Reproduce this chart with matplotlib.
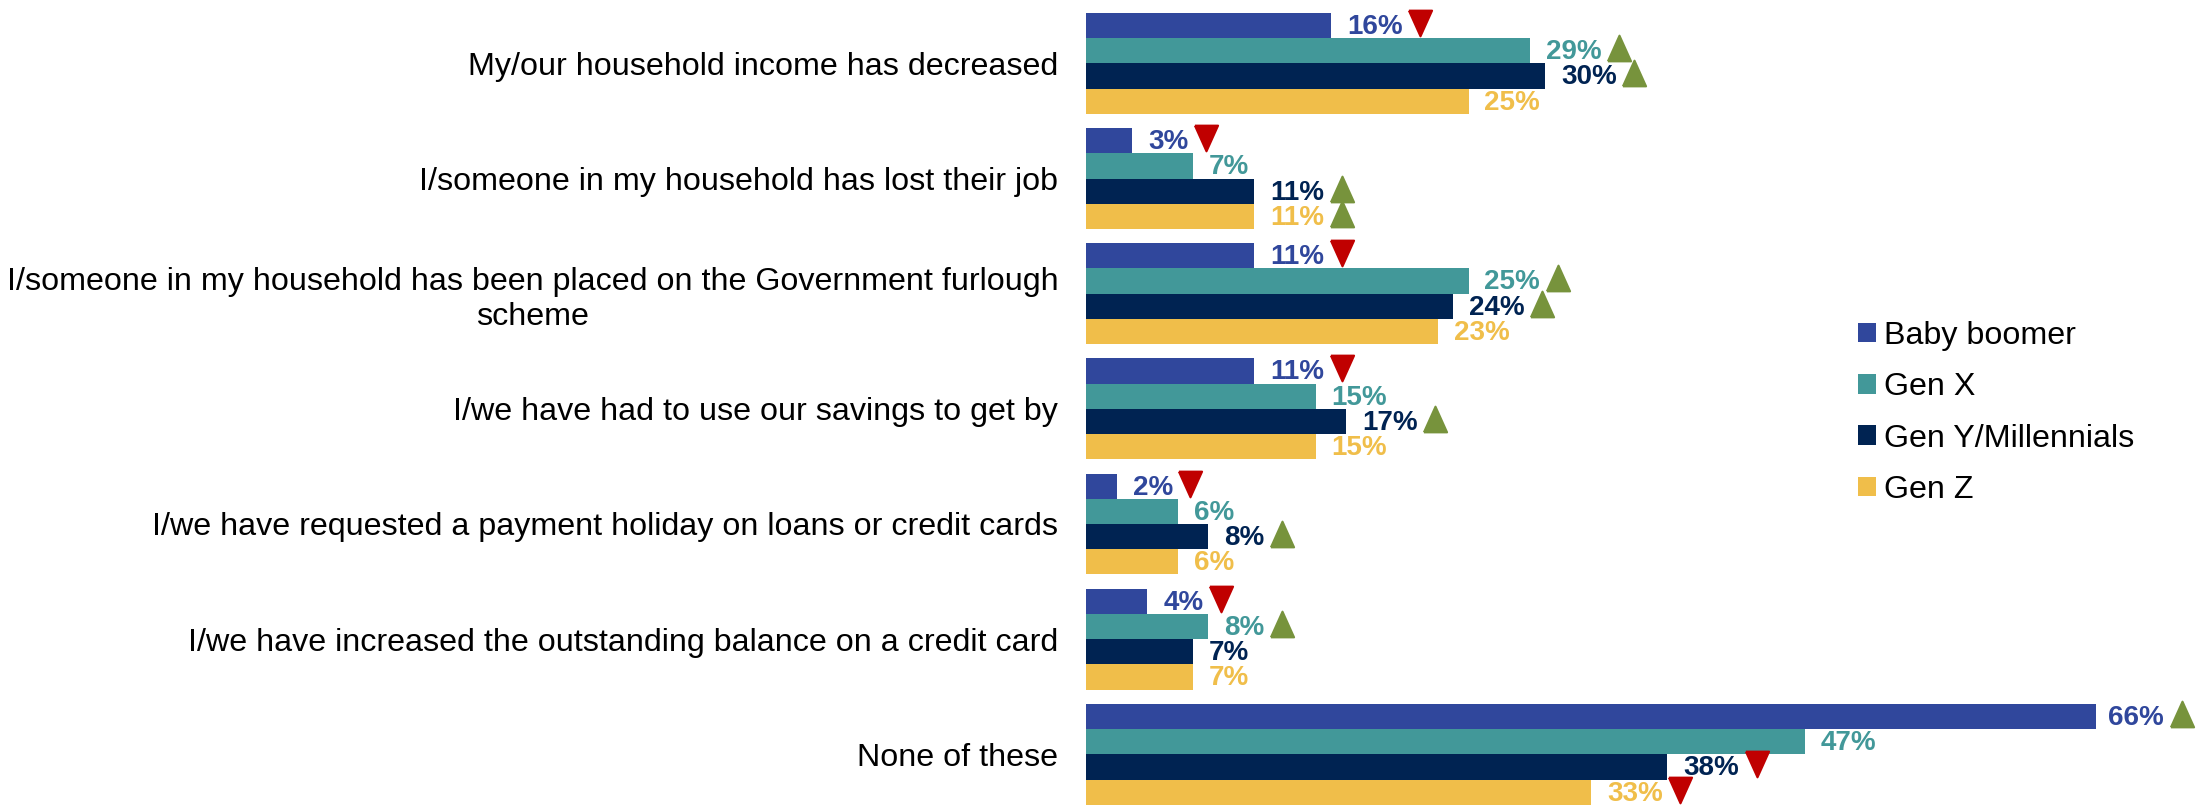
import matplotlib
matplotlib.use("Agg")
import matplotlib.pyplot as plt
import numpy as np
from matplotlib.patches import Patch

categories = [
    "My/our household income has decreased",
    "I/someone in my household has lost their job",
    "I/someone in my household has been placed on the Government furlough\nscheme",
    "I/we have had to use our savings to get by",
    "I/we have requested a payment holiday on loans or credit cards",
    "I/we have increased the outstanding balance on a credit card",
    "None of these",
]
series = ["Baby boomer", "Gen X", "Gen Y/Millennials", "Gen Z"]
baby_boomer = [16, 3, 11, 11, 2, 4, 66]
gen_x = [29, 7, 25, 15, 6, 8, 47]
gen_y = [30, 11, 24, 17, 8, 7, 38]
gen_z = [25, 11, 23, 15, 6, 7, 33]
# significance flags: 1 = higher (green up), -1 = lower (red down), 0 = none
sig_bb = [-1, -1, -1, -1, -1, -1, 1]
sig_x = [1, 0, 1, 0, 0, 1, 0]
sig_y = [1, 1, 1, 1, 1, 0, -1]
sig_z = [0, 1, 0, 0, 0, 0, -1]

colors = ["#30479C", "#429899", "#002352", "#F0BE4A"]
values = [baby_boomer, gen_x, gen_y, gen_z]
sigs = [sig_bb, sig_x, sig_y, sig_z]

W, H = 2206, 805
fig = plt.figure(figsize=(W / 100, H / 100), dpi=100)
ax = fig.add_axes([1086 / W, 0, 1 - 1086 / W, 1])

bh = 0.219
y = np.arange(len(categories))
for k in range(4):
    ax.barh(y - 1.5 * bh + k * bh, values[k], height=bh, color=colors[k], edgecolor="none")

ax.set_xlim(0, 73.2)
ax.set_ylim(6.44, -0.55)
ax.set_yticks(y)
ax.set_yticklabels(categories, fontsize=23.2, family=["Liberation Sans", "DejaVu Sans"],
                   multialignment="center")
ax.tick_params(axis="y", length=0, pad=20)
ax.set_xticks([])
for s in ax.spines.values():
    s.set_visible(False)

labfont = dict(family=["Liberation Sans", "DejaVu Sans"], fontsize=20, fontweight="bold")
texts = []
for k in range(4):
    for i, v in enumerate(values[k]):
        t = ax.annotate(f"{v}%", xy=(v, y[i] - 1.5 * bh + k * bh), xytext=(11.5, -1),
                        textcoords="offset points", ha="left", va="center",
                        color=colors[k], **labfont)
        texts.append((t, k, i))

fig.canvas.draw()
renderer = fig.canvas.get_renderer()
tri_half = 12.5
max_right = W - 12
tri_w = 0.45
up = [(-tri_w, -0.5), (tri_w, -0.5), (0, 0.5), (-tri_w, -0.5)]
down = [(-tri_w, 0.5), (tri_w, 0.5), (0, -0.5), (-tri_w, 0.5)]
for t, k, i in texts:
    s = sigs[k][i]
    if s == 0:
        continue
    bb = t.get_window_extent(renderer)
    cx = bb.x1 + 5 + tri_half
    overflow = cx + tri_half - max_right
    if overflow > 0:
        ox, oy = t.xyann
        t.xyann = (ox - overflow * 72 / 100, oy)
        cx -= overflow
    cy = (bb.y0 + bb.y1) / 2 + 4
    dx, dy = ax.transData.inverted().transform((cx, cy))
    c = "#77933C" if s > 0 else "#C00000"
    ax.plot([dx], [dy], marker=up if s > 0 else down, markersize=18.5,
            color=c, markeredgecolor=c, markeredgewidth=1.5,
            linestyle="none", clip_on=False, solid_joinstyle="round")

handles = [Patch(facecolor=c, edgecolor="none") for c in colors]
fig.legend(handles, series, loc="upper left", bbox_to_anchor=(1858 / W, 1 - 321 / H),
           frameon=False, prop={"family": "Liberation Sans", "size": 23.2},
           handlelength=0.55, handleheight=0.55, handletextpad=0.25, labelspacing=0.66,
           borderpad=0, borderaxespad=0)

fig.savefig("out.png", dpi=100)
